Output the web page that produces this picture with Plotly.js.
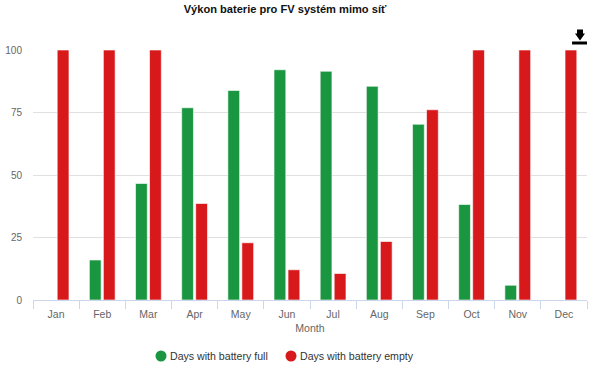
<!DOCTYPE html>
<html>
<head>
<meta charset="utf-8">
<script src="https://cdn.plot.ly/plotly-3.0.1.min.js"></script>
<style>html,body{margin:0;padding:0;background:#fff}#c{width:600px;height:373px}</style>
</head>
<body>
<div id="c"></div>
<script>
var months = ['Jan','Feb','Mar','Apr','May','Jun','Jul','Aug','Sep','Oct','Nov','Dec'];
var daysFull = [0,16,46.6,76.9,83.8,92.1,91.5,85.5,70.3,38.2,5.9,0];
var daysEmpty = [100,100,100,38.6,22.9,12.1,10.6,23.4,76.1,100,100,100];
var nameFull = 'Days with battery full';
var nameEmpty = 'Days with battery empty';
var colorFull = '#1a9641';
var colorEmpty = '#d7191c';
var chartTitle = 'Výkon baterie pro FV systém mimo síť';
var yTicks = [0,25,50,75,100];

function bar(name, y, color){
  return {type:'bar', name:name, x:months, y:y, width:0.255, showlegend:false, hoverinfo:'x+y+name',
    marker:{color:color, line:{color:'#fff', width:0.6}}};
}
function key(name, color){
  return {type:'scatter', mode:'markers', name:name, x:[null], y:[null],
    marker:{color:color, size:11, symbol:'circle'}};
}
var font = 'Liberation Sans, Arial, sans-serif';
var layout = {
  width:600, height:373, autosize:false,
  paper_bgcolor:'#fff', plot_bgcolor:'#fff',
  font:{family:font, color:'#666', size:11},
  margin:{l:33, r:13, t:49.5, b:73, pad:0},
  barmode:'group', bargap:0.393, bargroupgap:0,
  title:{text:'<b>'+chartTitle+'</b>', x:0.475, xanchor:'center', y:0.976, yanchor:'middle',
    font:{family:font, size:11.1, color:'#111'}},
  xaxis:{type:'category', categoryorder:'array', categoryarray:months, tickson:'boundaries',
    ticks:'outside', ticklen:8, tickcolor:'#ccd6eb', tickwidth:1, showline:true, linecolor:'#ccd6eb', linewidth:1,
    showgrid:false, zeroline:false, automargin:false, ticklabelstandoff:4,
    tickfont:{size:10.5, color:'#666'},
    title:{text:'Month', standoff:5, font:{size:10.6, color:'#666'}}},
  yaxis:{range:[0,100], tickmode:'array', tickvals:yTicks, ticktext:yTicks.map(String), showgrid:true, gridcolor:'#e0e0e0', gridwidth:1,
    zeroline:false, showline:false, ticks:'', automargin:false, ticklabelstandoff:10,
    tickfont:{size:10, color:'#666'}},
  legend:{orientation:'h', xref:'container', yref:'container', x:0.235, xanchor:'left', y:0.0456, yanchor:'middle',
    font:{size:10.6, color:'#333'}, itemclick:false, itemdoubleclick:false, bgcolor:'rgba(0,0,0,0)'},
  shapes:[
    {type:'path', xref:'paper', yref:'paper', fillcolor:'#000', line:{width:0},
     path:'M 0.9820 1.082 L 0.9928 1.082 L 0.9928 1.066 L 0.9964 1.066 L 0.9874 1.038 L 0.9783 1.066 L 0.9820 1.066 Z'},
    {type:'rect', xref:'paper', yref:'paper', fillcolor:'#000', line:{width:0},
     x0:0.973, x1:1.0, y0:1.022, y1:1.034}
  ]
};
Plotly.newPlot('c',[bar(nameFull,daysFull,colorFull),bar(nameEmpty,daysEmpty,colorEmpty),key(nameFull,colorFull),key(nameEmpty,colorEmpty)],layout,{displayModeBar:false}).then(function(){
  document.querySelectorAll('#c .legendtext').forEach(function(t){ t.setAttribute('x', parseFloat(t.getAttribute('x'))-11); });
  var items = document.querySelectorAll('#c .legend .traces');
  if (items.length === 2) {
    var m = /translate\(([-\d.]+),\s*([-\d.]+)\)/.exec(items[0].getAttribute('transform'));
    items[1].setAttribute('transform', 'translate(' + (parseFloat(m[1]) + 130) + ',' + m[2] + ')');
  }
});
</script>
</body>
</html>
